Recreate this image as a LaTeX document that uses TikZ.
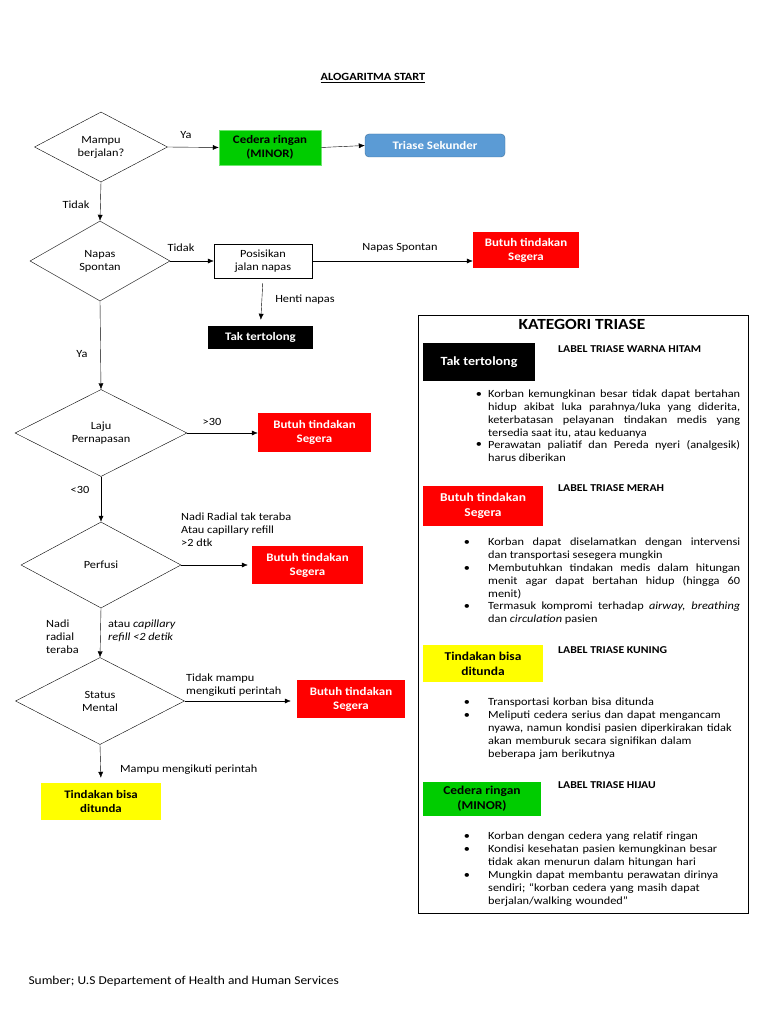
\documentclass[tikz,border=0pt]{standalone}
\usepackage{fontspec}
\setmainfont{Carlito}[FakeStretch=1.12]
\usetikzlibrary{shapes.geometric,arrows.meta,positioning,calc}
\definecolor{triGreen}{RGB}{0,204,0}
\definecolor{triGreenLine}{RGB}{110,230,110}
\definecolor{triRed}{RGB}{255,0,0}
\definecolor{triYellow}{RGB}{255,255,0}
\definecolor{triBlue}{RGB}{91,155,213}
\definecolor{triBlueLine}{RGB}{65,113,156}
\tikzset{
  decide/.style={diamond,draw,thin,aspect=2,inner sep=0pt,align=center},
  tribox/.style={inner sep=0pt,align=center,font=\fontsize{11.5}{14}\selectfont\bfseries},
  boxred/.style={tribox,fill=triRed,text=white},
  boxgreen/.style={tribox,fill=triGreen,draw=triGreenLine},
  boxyellow/.style={tribox,fill=triYellow},
  boxblack/.style={tribox,fill=black,text=white},
  flow/.style={-{Latex[length=6pt,width=5pt]},thin},
  lbl/.style={inner sep=0pt,anchor=north west,align=left},
  head/.style={inner sep=0pt,anchor=west,font=\fontsize{10.5}{12}\selectfont\bfseries},
  item/.style={inner sep=0pt,anchor=north west,text width=252pt},
}
% bullet item of the panel: name, bullet x, top y, align, text
\newcommand\triitem[5]{
\node[item,align=#4] (#1) at (488,#3) {#5};
\node[inner sep=0pt,anchor=north] (#1-dot) at (#2,#3) {\vphantom{Kd}\textbullet};
}

\begin{document}
\begin{tikzpicture}[x=1pt,y=-1pt,font=\fontsize{11}{13}\selectfont]
\useasboundingbox (0,0) rectangle (768,1024);
\node[font=\fontsize{11}{13}\selectfont\bfseries] (title) at (373,78) {\underline{ALOGARITMA START}};

% algoritma
\node[decide,minimum width=133pt,minimum height=70pt] (walk) at (101,147) {Mampu\\berjalan?};
\node[boxgreen,minimum width=102pt,minimum height=35pt] (minor) at (270,147.5) {Cedera ringan\\(MINOR)};
\node[tribox,fill=triBlue,draw=triBlueLine,text=white,rounded corners=4pt,minimum width=140pt,minimum height=23pt] (second) at (435,145.5) {Triase Sekunder};
\node[decide,minimum width=140pt,minimum height=80pt] (breath) at (100,261) {Napas\\Spontan};
\node[draw,thin,inner sep=0pt,align=center,minimum width=98pt,minimum height=34pt] (airway) at (263,261) {Posisikan\\jalan napas};
\node[boxred,minimum width=106pt,minimum height=36pt] (red1) at (526,250) {Butuh tindakan\\Segera};
\node[boxblack,minimum width=105pt,minimum height=23pt] (dead) at (260.5,337.5) {Tak tertolong};
\node[decide,minimum width=172pt,minimum height=87pt] (rate) at (101,433) {Laju\\Pernapasan};
\node[boxred,minimum width=113pt,minimum height=39pt] (red2) at (314.5,432.5) {Butuh tindakan\\Segera};
\node[decide,minimum width=160pt,minimum height=86pt] (perf) at (101,565) {Perfusi};
\node[boxred,minimum width=111pt,minimum height=38pt] (red3) at (307.5,565) {Butuh tindakan\\Segera};
\node[decide,minimum width=169pt,minimum height=87pt] (mental) at (100,701) {Status\\Mental};
\node[boxred,minimum width=108pt,minimum height=38pt] (red4) at (351,699) {Butuh tindakan\\Segera};
\node[boxyellow,minimum width=120pt,minimum height=37pt] (delay) at (101,801.5) {Tindakan bisa\\ditunda};

\draw[flow] (walk.east) -- (minor.west);
\draw[flow] (minor.east) -- (second.west);
\draw[flow] (walk.south) -- (breath.north);
\draw[flow] (breath.east) -- (airway.west);
\draw[flow] (airway.east) -- (airway.east -| red1.west);
\draw[flow,shorten <=5pt,shorten >=6pt] (airway.south) -- (dead.north);
\draw[flow] (breath.south) -- (rate.north);
\draw[flow] (rate.east) -- (rate.east -| red2.west);
\draw[flow] (rate.south) -- (perf.north);
\draw[flow,shorten >=4pt] (perf.east) -- (perf.east -| red3.west);
\draw[flow] (perf.south) -- (mental.north);
\draw[flow,shorten >=6pt] (mental.east) -- (mental.east -| red4.west);
\draw[flow,shorten >=5pt] (mental.south) -- (delay.north);

\node (ya1) at (186,135) {Ya};
\node (no1) at (76,205) {Tidak};
\node (no2) at (181,248) {Tidak};
\node (spont) at (400,248) {Napas Spontan};
\node (stop) at (305,300) {Henti napas};
\node (ya2) at (82,354) {Ya};
\node (over) at (212,422) {>30};
\node (under) at (80,490) {<30};
\node[lbl] (noradial) at (181,513) {Nadi Radial tak teraba\\Atau capillary refill\\>2 dtk};
\node[lbl] (radial) at (46,620) {Nadi\\radial\\teraba};
\node[lbl] (refill) at (108,620) {atau \textit{capillary}\\\textit{refill <2 detik}};
\node[lbl] (nofollow) at (186,674) {Tidak mampu\\mengikuti perintah};
\node[lbl] (follow) at (120,765) {Mampu mengikuti perintah};

% kategori triase
\draw[thin] (418,315) rectangle (748,913);
\node[font=\fontsize{15.5}{17}\selectfont\bfseries] (cat) at (582,324) {KATEGORI TRIASE};

\node[boxblack,font=\fontsize{12.5}{15}\selectfont\bfseries,minimum width=112pt,minimum height=38pt] (kb) at (479,362) {Tak tertolong};
\node[head] (hb) at (558,349) {LABEL TRIASE WARNA HITAM};
\triitem{b1}{479}{390}{justify}{Korban kemungkinan besar tidak dapat bertahan\linebreak hidup akibat luka parahnya/luka yang diderita,\linebreak keterbatasan pelayanan tindakan medis yang\linebreak tersedia saat itu, atau keduanya}
\triitem{b2}{479}{440}{justify}{Perawatan paliatif dan Pereda nyeri (analgesik)\linebreak harus diberikan}

\node[boxred,font=\fontsize{12}{15}\selectfont\bfseries,minimum width=120pt,minimum height=40pt] (rb) at (483,506) {Butuh tindakan\\Segera};
\node[head] (hr) at (558,488) {LABEL TRIASE MERAH};
\triitem{r1}{467}{538}{justify}{Korban dapat diselamatkan dengan intervensi\linebreak dan transportasi sesegera mungkin}
\triitem{r2}{467}{564}{justify}{Membutuhkan tindakan medis dalam hitungan\linebreak menit agar dapat bertahan hidup (hingga 60\linebreak menit)}
\triitem{r3}{467}{602}{justify}{Termasuk kompromi terhadap \textit{airway, breathing}\linebreak dan \textit{circulation} pasien}

\node[boxyellow,font=\fontsize{12}{15}\selectfont\bfseries,minimum width=120pt,minimum height=37pt] (yb) at (483,663.5) {Tindakan bisa\\ditunda};
\node[head] (hy) at (558,650) {LABEL TRIASE KUNING};
\triitem{y1}{467}{698}{left}{Transportasi korban bisa ditunda}
\triitem{y2}{467}{711}{left}{Meliputi cedera serius dan dapat mengancam\\nyawa, namun kondisi pasien diperkirakan tidak\\akan memburuk secara signifikan dalam\\beberapa jam berikutnya}

\node[boxgreen,draw=none,font=\fontsize{12}{15}\selectfont\bfseries,minimum width=118pt,minimum height=34pt] (gb) at (482,799) {Cedera ringan\\(MINOR)};
\node[head] (hg) at (558,785) {LABEL TRIASE HIJAU};
\triitem{g1}{467}{832}{left}{Korban dengan cedera yang relatif ringan}
\triitem{g2}{467}{845}{left}{Kondisi kesehatan pasien kemungkinan besar\\tidak akan menurun dalam hitungan hari}
\triitem{g3}{467}{871}{left}{Mungkin dapat membantu perawatan dirinya\\sendiri; “korban cedera yang masih dapat\\berjalan/walking wounded”}

\node[anchor=west,font=\fontsize{12}{14}\selectfont] (source) at (25,981) {Sumber; U.S Departement of Health and Human Services};
\end{tikzpicture}
\end{document}
